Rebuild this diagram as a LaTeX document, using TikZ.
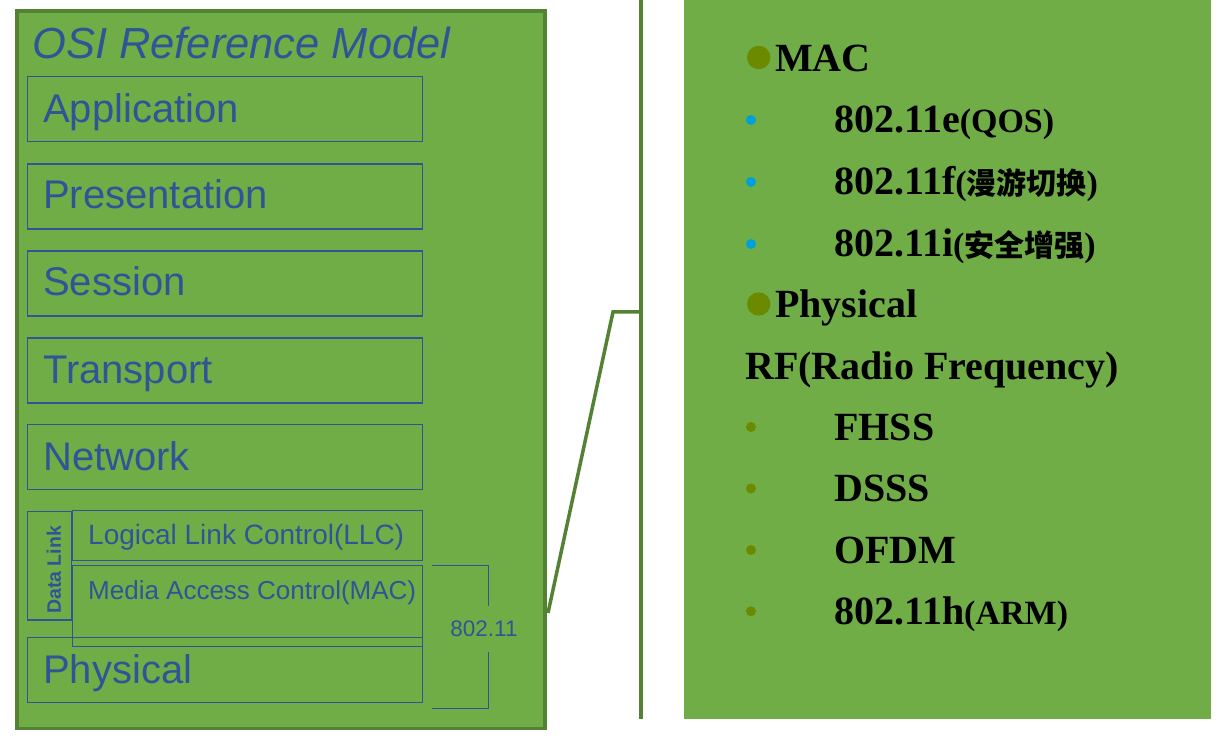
\documentclass[tikz,border=0pt]{standalone}
\usepackage{fontspec}
\setmainfont{Liberation Serif}
\newfontfamily\arialf{Liberation Sans}
\newfontfamily\cjkf{Noto Sans CJK SC}
\definecolor{fillg}{HTML}{70AD47}
\definecolor{darkg}{HTML}{548235}
\definecolor{osiblue}{HTML}{2F5597}
\definecolor{bulolive}{RGB}{107,138,0}
\definecolor{bulblue}{RGB}{0,160,220}
\newcommand{\parsm}[1]{{\fontsize{34}{40}\selectfont #1}}
\newcommand{\cjksm}[1]{{\cjkf\bfseries\fontsize{30}{36}\selectfont #1}}
\begin{document}
\begin{tikzpicture}[x=1pt,y=-1pt,
  layer/.style={draw=osiblue, line width=1.5pt, inner sep=0pt, rectangle},
  ltext/.style={font=\arialf\fontsize{40}{48}\selectfont, text=osiblue, anchor=base west, inner sep=0pt},
  stext/.style={text=osiblue, anchor=base west, inner sep=0pt},
  rtext/.style={font=\bfseries\fontsize{40}{48}\selectfont, text=black, anchor=base west, inner sep=0pt},
  bigbul/.style={circle, fill=bulolive, inner sep=0pt, minimum size=23.4pt},
  bluebul/.style={circle, fill=bulblue, inner sep=0pt, minimum size=10pt},
  olbul/.style={circle, fill=bulolive, inner sep=0pt, minimum size=10pt},
  glink/.style={draw=darkg, line width=3.5pt}]
\useasboundingbox (0,0) rectangle (1232,751);

% left frame
\node[draw=darkg, fill=fillg, line width=3.5pt, minimum width=528pt, minimum height=717.5pt, inner sep=0pt] (frame) at (281,369.75) {};
\node[font=\arialf\itshape\fontsize{43.5}{52}\selectfont, text=osiblue, anchor=base west, inner sep=0pt] (title) at (32,59) {OSI Reference Model};

% layers
\node[layer, minimum width=394.6pt, minimum height=65pt] (app) at (225,109.2) {};
\node[layer, minimum width=394.6pt, minimum height=65pt] (pres) at (225,196.5) {};
\node[layer, minimum width=394.6pt, minimum height=65pt] (sess) at (225,283.5) {};
\node[layer, minimum width=394.6pt, minimum height=65pt] (trans) at (225,370.5) {};
\node[layer, minimum width=394.6pt, minimum height=65pt] (net) at (225,457) {};
\node[ltext] (tapp) at (43,122.7) {Application};
\node[ltext] (tpres) at (43,209) {Presentation};
\node[ltext] (tsess) at (43,296) {Session};
\node[ltext] (ttrans) at (43,383) {Transport};
\node[ltext] (tnet) at (43,470) {Network};

\node[layer, minimum width=44pt, minimum height=108.3pt] (dl) at (49.7,565.85) {};
\node[font=\arialf\bfseries\fontsize{19.5}{24}\selectfont, text=osiblue, rotate=90, inner sep=0pt] (tdl) at (54,570) {Data Link};
\node[layer, minimum width=349.6pt, minimum height=50pt] (llc) at (247.5,535.7) {};
\node[layer, minimum width=349.6pt, minimum height=81pt] (mac) at (247.5,606.2) {};
\node[layer, minimum width=394.6pt, minimum height=65.4pt] (phys) at (225,670) {};
\node[stext, font=\arialf\fontsize{28}{33}\selectfont] (tllc) at (88,544.3) {Logical Link Control(LLC)};
\node[stext, font=\arialf\fontsize{26}{31}\selectfont] (tmac) at (88,599.3) {Media Access Control(MAC)};
\node[ltext] (tphys) at (43,683) {Physical};

% 802.11 bracket
\node[font=\arialf\fontsize{22.5}{27}\selectfont, text=osiblue, anchor=base, inner sep=0pt] (t80211) at (484,636) {802.11};
\coordinate (bt) at (432.3,565.7);
\coordinate (bb) at (432.3,708.3);
\draw[osiblue, line width=1.5pt] (bt) -- (488.3,565.7) -- (488.3,606);
\draw[osiblue, line width=1.5pt] (488.3,651.7) -- (488.3,708.3) -- (bb);

% connector to right panel
\coordinate (vtop) at (641,0);
\coordinate (vbot) at (641,719);
\coordinate (kink) at (613,312);
\coordinate (frameR) at (548,613);
\draw[glink] (vtop) -- (vbot);
\draw[glink, line join=miter] (frameR) -- (kink) -- (641,312);

% right panel
\node[fill=fillg, minimum width=527pt, minimum height=719pt, inner sep=0pt] (panel) at (947.5,359.5) {};

\node[bigbul] (b1) at (758.7,57.5) {};
\node[rtext] (r1) at (775,72) {MAC};
\node[bluebul] (b2) at (751,120) {};
\node[rtext] (r2) at (834,133) {802.11e\parsm{(QOS)}};
\node[bluebul] (b3) at (751,182) {};
\node[rtext] (r3) at (834,195) {802.11f\parsm{(}\cjksm{漫游切换}\parsm{)}};
\node[bluebul] (b4) at (751,244) {};
\node[rtext] (r4) at (834,257) {802.11i\parsm{(}\cjksm{安全增强}\parsm{)}};
\node[bigbul] (b5) at (758.7,304) {};
\node[rtext] (r5) at (775,318) {Physical};
\node[rtext] (r6) at (745,379.5) {RF(Radio Frequency)};
\node[olbul] (b7) at (751,427) {};
\node[rtext] (r7) at (834,440) {FHSS};
\node[olbul] (b8) at (751,488.5) {};
\node[rtext] (r8) at (834,501.5) {DSSS};
\node[olbul] (b9) at (751,550) {};
\node[rtext] (r9) at (834,563) {OFDM};
\node[olbul] (b10) at (751,611.3) {};
\node[rtext] (r10) at (834,624.5) {802.11h\parsm{(ARM)}};
\end{tikzpicture}
\end{document}
